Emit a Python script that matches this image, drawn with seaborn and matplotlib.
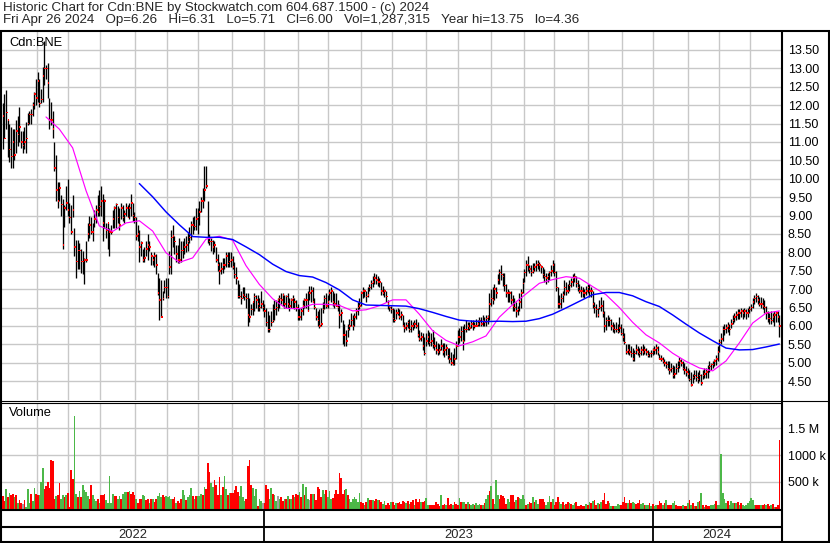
import numpy as np
import matplotlib
matplotlib.use("Agg")
import matplotlib.pyplot as plt
import seaborn as sns
from matplotlib.lines import Line2D

# ---------------- data ----------------
title_line1 = "Historic Chart for Cdn:BNE by Stockwatch.com 604.687.1500 - (c) 2024"
title_fields = ["Fri Apr 26 2024", "Op=6.26", "Hi=6.31", "Lo=5.71", "Cl=6.00",
                "Vol=1,287,315", "Year hi=13.75", "lo=4.36"]
symbol_label = "Cdn:BNE"
volume_label = "Volume"

high = [
 12.05,12.3,12.4,11.6,11.5,11.4,11.35,11.35,11.6,11.7,
 11.95,11.3,11.3,11.4,11.55,11.8,11.85,11.9,12.1,12.35,
 12.7,12.9,12.7,12.45,13.05,13.75,13.1,13.15,12.2,12.1,
 11.85,11.0,10.65,9.9,9.9,9.55,9.45,9.3,9.8,10.0,
 9.35,9.3,9.55,8.65,8.35,8.35,8.25,8.1,8.05,7.85,
 8.3,8.8,9.0,8.95,8.8,9.15,9.3,9.55,9.7,9.8,
 9.6,9.45,8.8,8.8,8.65,8.75,9.15,9.25,9.35,9.25,
 9.2,9.35,9.3,9.15,9.35,9.3,9.35,9.6,9.35,9.1,
 8.95,8.75,8.6,8.3,8.1,8.15,8.3,8.5,8.3,8.0,
 7.9,8.0,
 7.95,7.45,7.3,7.25,6.95,7.25,7.3,7.3,8.05,8.6,
 8.75,8.45,8.2,8.2,8.4,8.3,8.3,8.4,8.45,8.55,
 8.7,8.85,8.95,9.0,9.2,9.2,9.4,9.5,9.75,10.35,
 10.35,9.4,8.5,8.4,8.35,8.3,8.15,7.95,7.75,7.75,
 7.85,7.85,8.0,8.0,8.0,8.0,7.9,7.75,7.6,7.25,
 7.15,6.95,7.05,7.05,6.9,6.9,6.75,6.6,6.65,6.9,
 6.85,6.85,6.75,6.95,6.7,6.6,6.5,6.4,6.3,6.4,
 6.6,6.7,6.7,6.75,6.85,6.9,6.9,6.85,6.85,6.9,
 6.75,6.75,6.85,6.75,6.7,6.6,6.5,6.5,6.7,6.75,
 6.9,6.95,7.1,
 7.1,7.05,6.75,6.5,6.4,6.45,6.5,6.65,6.85,6.9,
 6.85,7.0,7.05,6.95,6.9,6.9,6.7,6.6,6.45,6.15,
 6.05,5.9,6.05,6.2,6.35,6.3,6.35,6.5,6.65,6.75,
 6.95,7.05,7.0,6.95,7.05,7.15,7.25,7.35,7.45,7.4,
 7.35,7.3,7.2,7.1,7.0,6.95,6.7,6.55,6.55,6.5,
 6.45,6.45,6.5,6.45,6.4,6.3,6.1,6.1,6.15,6.2,
 6.15,6.1,6.15,6.2,6.1,5.9,5.85,5.8,5.7,5.8,
 5.9,5.85,5.8,5.9,5.7,5.6,5.55,5.5,5.65,5.55,
 5.55,5.5,5.4,5.4,5.3,5.25,5.4,5.6,5.9,5.95,
 6.0,6.0,6.05,
 6.15,6.1,6.1,6.15,6.15,6.1,6.2,6.15,6.25,6.25,
 6.3,6.25,6.3,6.3,6.9,7.0,7.05,7.15,7.05,7.4,
 7.55,7.65,7.45,7.45,7.15,7.0,6.95,6.95,6.85,6.75,
 6.65,6.55,6.9,7.0,7.3,7.55,7.8,7.9,7.65,7.65,
 7.7,7.7,7.8,7.8,7.75,7.65,7.6,7.55,7.45,7.45,
 7.5,7.65,7.8,7.7,7.5,7.05,6.85,6.9,6.95,7.25,
 7.2,7.15,7.25,7.3,7.4,7.45,7.35,7.25,7.15,7.1,
 7.05,7.0,7.1,7.15,7.15,7.05,6.95,6.65,6.6,6.5,
 6.7,6.8,6.7,6.4,6.25,6.3,6.25,6.2,6.1,6.05,
 6.1,6.05,6.25,
 6.05,5.95,5.8,5.5,5.5,5.5,5.45,5.4,5.35,5.5,
 5.45,5.4,5.45,5.5,5.45,5.4,5.35,5.3,5.35,5.4,
 5.45,5.5,5.45,5.25,5.2,5.15,5.1,5.05,5.05,5.05,
 5.0,4.95,4.9,5.0,5.05,5.15,5.1,5.05,5.0,4.9,
 4.85,4.8,4.75,4.7,4.8,4.8,4.75,4.8,4.7,4.8,
 4.85,4.85,4.95,5.05,5.0,5.05,5.1,5.2,5.45,5.65,
 5.8,6.0,6.05,6.05,6.1,6.05,6.2,6.3,6.35,6.4,
 6.45,6.45,6.5,6.45,6.5,6.45,6.5,6.55,6.6,6.75,
 6.85,6.9,6.85,6.8,6.8,6.75,6.7,6.55,6.4,6.35,
 6.4,6.35,6.4,6.4,6.4,6.31,
]

low = [
 10.8,11.1,11.35,10.6,10.45,10.3,10.3,10.5,10.7,10.9,
 11.0,10.85,10.7,10.8,10.7,11.45,11.5,11.5,11.7,11.9,
 12.0,12.1,11.95,12.05,12.1,12.55,12.7,12.2,11.35,11.45,
 11.1,10.2,9.4,9.2,9.4,9.0,8.1,8.7,9.15,9.0,
 8.8,8.5,8.95,7.9,7.3,7.55,7.55,7.45,7.4,7.15,
 7.75,8.3,8.4,8.5,8.3,8.7,8.8,9.0,9.0,9.0,
 8.3,8.65,8.4,8.1,7.9,8.5,8.65,8.65,8.65,8.8,
 8.6,8.9,8.85,8.8,9.0,8.95,8.9,9.0,8.85,8.8,
 8.35,8.3,7.75,7.9,7.75,7.75,7.9,7.8,8.05,7.65,
 7.65,7.6,
 7.4,6.85,6.15,6.25,6.7,6.9,6.75,6.75,7.4,7.4,
 8.15,7.95,7.75,7.7,7.7,7.75,7.85,7.95,8.0,8.05,
 8.25,8.35,8.5,8.6,8.6,8.5,8.75,9.1,9.2,9.4,
 9.75,8.25,8.2,8.05,7.95,8.0,7.75,7.5,7.15,7.4,
 7.45,7.55,7.6,7.6,7.6,7.6,7.55,7.3,7.15,6.75,
 6.75,6.6,6.75,6.7,6.5,6.0,6.1,6.3,6.3,6.4,
 6.5,6.4,6.4,6.5,6.4,6.25,6.0,5.85,5.85,6.0,
 6.1,6.15,6.3,6.4,6.5,6.6,6.55,6.5,6.5,6.5,
 6.4,6.5,6.5,6.45,6.4,6.15,6.15,6.15,6.3,6.5,
 6.5,6.4,6.7,
 6.65,6.65,6.45,6.15,6.0,5.95,6.0,6.35,6.45,6.5,
 6.5,6.7,6.65,6.55,6.5,6.55,6.4,5.95,6.1,5.5,
 5.45,5.45,5.7,5.9,6.0,5.9,6.0,6.2,6.3,6.45,
 6.55,6.75,6.8,6.65,6.8,6.95,7.0,7.05,7.15,7.15,
 7.1,7.05,6.85,6.85,6.8,6.65,6.45,6.4,6.35,6.1,
 6.1,6.2,6.3,6.2,6.15,6.0,5.85,5.9,5.95,5.85,
 5.85,5.9,5.95,5.95,5.7,5.6,5.6,5.35,5.2,5.45,
 5.5,5.45,5.45,5.4,5.35,5.25,5.2,5.25,5.35,5.2,
 5.15,5.2,5.1,5.0,4.95,4.95,4.95,5.1,5.45,5.55,
 5.6,5.35,5.6,
 5.85,5.9,5.9,5.95,5.9,5.95,6.0,6.0,6.0,6.0,
 6.0,6.0,6.0,6.05,6.15,6.55,6.6,6.7,6.75,7.15,
 7.15,7.25,7.1,6.95,6.8,6.65,6.65,6.6,6.4,6.4,
 6.25,6.3,6.4,6.5,6.9,7.2,7.35,7.5,7.45,7.35,
 7.45,7.5,7.5,7.55,7.5,7.45,7.3,7.2,7.15,7.2,
 7.25,7.35,7.45,7.35,6.95,6.5,6.5,6.5,6.65,6.85,
 6.85,6.9,6.95,7.05,7.1,7.2,7.05,6.95,6.9,6.8,
 6.8,6.75,6.85,6.9,6.8,6.8,6.5,6.35,6.25,6.25,
 6.45,6.4,6.25,5.85,5.9,6.0,6.0,5.9,5.85,5.8,
 5.85,5.8,5.85,
 5.75,5.6,5.5,5.25,5.25,5.2,5.15,5.05,5.05,5.25,
 5.2,5.15,5.2,5.2,5.25,5.2,5.15,5.15,5.15,5.2,
 5.25,5.25,5.2,5.1,5.05,5.0,4.9,4.85,4.8,4.7,
 4.75,4.6,4.6,4.7,4.75,4.85,4.9,4.8,4.7,4.65,
 4.6,4.5,4.36,4.45,4.55,4.5,4.45,4.5,4.4,4.55,
 4.6,4.6,4.6,4.75,4.8,4.85,4.9,4.95,5.05,5.3,
 5.5,5.6,5.75,5.8,5.85,5.75,5.95,6.05,6.1,6.15,
 6.2,6.2,6.25,6.2,6.25,6.2,6.25,6.35,6.4,6.5,
 6.6,6.65,6.6,6.55,6.5,6.45,6.35,6.2,6.1,6.05,
 6.05,6.1,6.0,6.1,6.1,5.71,
]

close = [
 11.7,11.1,11.8,11.6,10.8,10.6,11.0,10.65,11.3,11.2,
 11.4,11.0,10.9,11.0,11.1,11.5,11.75,11.75,12.0,12.3,
 12.2,12.65,12.05,12.15,12.8,13.0,13.0,12.6,11.6,11.6,
 11.35,10.3,9.7,9.4,9.75,9.3,8.2,9.2,9.35,9.15,
 8.95,8.55,9.15,8.15,7.75,8.05,8.05,7.75,7.75,7.8,
 7.8,8.5,8.75,8.55,8.55,8.9,9.15,9.1,9.25,9.4,
 8.8,9.4,8.6,8.8,8.55,8.55,8.9,9.2,9.3,8.95,
 8.75,9.2,8.95,9.05,9.2,8.95,9.2,9.35,9.0,8.95,
 8.45,8.5,8.15,8.25,7.8,7.85,8.1,8.2,8.15,7.9,
 7.8,7.9,
 7.65,6.9,6.7,6.25,6.75,7.05,7.05,6.8,7.6,8.4,
 8.45,8.3,7.95,7.8,7.8,8.05,8.05,8.15,8.2,8.3,
 8.4,8.75,8.75,8.7,8.9,8.95,9.1,9.4,9.4,9.7,
 9.8,8.4,8.3,8.3,8.15,8.2,7.8,7.65,7.5,7.55,
 7.65,7.65,7.9,7.7,7.75,7.8,7.6,7.4,7.3,6.8,
 6.8,6.75,6.85,6.8,6.75,6.3,6.25,6.45,6.65,6.8,
 6.7,6.6,6.5,6.6,6.5,6.4,6.1,5.9,5.9,6.1,
 6.15,6.45,6.5,6.7,6.75,6.7,6.85,6.6,6.8,6.6,
 6.55,6.7,6.75,6.65,6.5,6.25,6.25,6.4,6.55,6.7,
 6.7,6.4,6.9,
 6.95,6.65,6.5,6.25,6.15,6.0,6.05,6.45,6.75,6.55,
 6.65,6.9,6.95,6.65,6.6,6.55,6.5,6.3,6.35,5.75,
 5.75,5.6,5.9,6.0,6.15,6.0,6.25,6.4,6.5,6.55,
 6.9,6.95,6.95,6.8,6.85,7.05,7.15,7.2,7.3,7.25,
 7.2,7.2,6.95,6.9,6.95,6.8,6.6,6.5,6.45,6.2,
 6.15,6.35,6.35,6.25,6.3,6.0,5.95,6.0,6.1,5.9,
 6.0,6.0,6.05,6.0,5.75,5.65,5.7,5.45,5.25,5.6,
 5.7,5.55,5.6,5.5,5.45,5.35,5.3,5.35,5.45,5.3,
 5.35,5.4,5.2,5.1,5.0,4.95,5.1,5.45,5.7,5.7,
 5.85,5.6,5.9,
 5.9,6.0,5.95,6.05,6.0,6.0,6.0,6.05,6.15,6.05,
 6.15,6.1,6.2,6.25,6.6,6.75,6.7,7.0,6.9,7.25,
 7.45,7.4,7.35,7.1,6.9,6.9,6.9,6.7,6.55,6.5,
 6.4,6.45,6.65,6.9,7.15,7.45,7.65,7.65,7.55,7.45,
 7.5,7.6,7.65,7.7,7.65,7.6,7.4,7.35,7.3,7.35,
 7.45,7.5,7.65,7.45,7.05,6.6,6.6,6.75,6.85,7.05,
 6.95,6.95,7.1,7.2,7.3,7.35,7.15,7.05,6.95,6.95,
 6.9,6.9,6.95,7.05,6.95,6.95,6.6,6.5,6.45,6.3,
 6.5,6.55,6.35,6.0,6.15,6.15,6.15,6.0,5.95,5.9,
 5.9,5.85,5.95,
 5.8,5.7,5.55,5.3,5.35,5.3,5.25,5.1,5.25,5.35,
 5.3,5.25,5.35,5.3,5.35,5.3,5.2,5.25,5.25,5.35,
 5.35,5.4,5.3,5.1,5.1,5.05,5.0,4.95,4.85,4.8,
 4.85,4.65,4.7,4.85,4.9,5.05,5.0,4.85,4.8,4.75,
 4.7,4.55,4.4,4.6,4.65,4.6,4.55,4.65,4.45,4.65,
 4.7,4.75,4.8,4.9,4.95,4.95,5.05,5.1,5.3,5.55,
 5.65,5.9,5.9,5.95,6.0,5.9,6.05,6.15,6.25,6.3,
 6.35,6.35,6.4,6.35,6.4,6.35,6.35,6.45,6.5,6.65,
 6.75,6.8,6.7,6.6,6.6,6.55,6.5,6.35,6.2,6.2,
 6.15,6.25,6.3,6.35,6.25,6.0,
]

# daily volume, thousands of shares
volume_k = [
 226,142,368,206,290,252,271,206,252,110,
 155,97,77,161,30,368,110,271,142,387,
 271,258,252,497,755,368,413,497,387,916,
 897,174,239,252,484,174,252,206,252,284,
 30,722,548,1722,271,206,335,206,432,355,
 303,239,174,432,252,174,142,174,110,252,
 252,271,161,110,613,110,271,239,226,187,
 226,187,271,303,303,316,335,271,303,252,
 174,110,174,187,252,226,161,187,110,174,
 174,123,174,226,290,206,252,206,226,206,
 239,187,174,206,110,142,110,174,348,252,
 155,206,252,387,226,174,239,226,239,271,
 252,400,368,851,677,484,400,529,432,252,
 581,252,400,600,368,252,290,290,290,355,
 413,316,239,419,206,142,187,800,916,445,
 381,239,368,40,174,142,110,110,445,368,
 174,387,271,252,142,239,174,206,142,174,
 174,226,174,174,252,206,271,252,303,
 213,452,245,406,181,168,277,277,264,168,
 406,361,213,342,277,342,213,323,181,200,
 277,342,277,664,568,277,342,361,245,181,
 116,181,213,181,116,290,116,97,65,116,
 194,168,168,168,148,181,161,161,116,84,
 142,65,103,65,116,129,65,97,103,129,
 77,148,116,97,142,77,129,168,65,181,
 129,181,129,116,148,194,65,65,65,65,
 65,116,84,52,258,65,84,65,194,65,
 84,65,129,84,65,194,116,116,116,84,
 116,84,65,84,65,97,65,84,65,65,
 103,181,258,323,426,181,84,535,258,181,
 245,232,194,84,181,116,245,245,116,161,
 206,194,181,245,181,65,84,116,103,213,
 129,161,84,181,181,181,116,65,129,232,
 116,181,65,116,213,116,84,116,65,84,
 116,97,
 90,71,103,123,52,52,71,39,52,90,
 71,116,103,135,168,71,103,90,116,155,
 284,90,135,103,39,39,52,52,90,71,
 71,116,219,103,103,155,103,116,103,90,
 103,168,90,103,71,71,71,103,52,90,
 39,71,71,135,103,71,103,155,71,71,
 71,103,148,71,52,52,52,71,39,52,
 103,168,71,103,39,52,116,135,297,71,
 26,71,39,52,71,71,90,135,71,71,
 1019,284,181,103,135,71,135,103,103,103,
 116,71,103,71,52,71,103,135,200,168,
 71,71,71,71,71,71,84,71,90,52,
 71,90,26,26,71,1287,
]

# r = down day, g = up day, x = unchanged
volume_dir = (
 "rrgrgrrgrg" "rrxrgggrgg" "rrgggrrrrr" "rrgrrggrgr" "rrrggrgrgg" "ggrrgggrgr"
 "rrgggggrrg" "grgggrgrrr" "grrrggrrgr" "grrgggrrgg" "ggrrgrrrgg" "rgggrgrggg"
 "rgrrrggrrr" "rgrggrgrrr" "rrggggrrrr" "gggrggxrrr" "ggrggxgrrg" "rgrgrgrrg"
 "rgrggxrgrr" "rrrggrgggr" "rrrrrrrgrg" "ggggggrrgr" "grrgrrgrrg" "grrrgrrgrr"
 "rrrgrgrrgr" "rrgrrggrrr" "rrrrgrrgrr" "rgrrrgrggr" "grggrgggrg" "rggrgrgggr"
 "rrrrggrrrg" "rggggrgrrg" "rggrrrrggg" "rgrrrggrgr" "rg"
 "rggrrrrrrg" "rgrgrrgrgr" "rrrggrgggg" "rrrrgrrggr" "rrggrggrgr" "ggrrrgrgrr"
 "rggrrrrgrr" "grgrgrgrgr" "grrrgggrgg" "ggggrgggrg" "rgrggggggg" "grrrgrrgrr"
 "grgrrr"
)

# moving averages as drawn on the chart (one value every 8 sessions)
ma_step = 8
fast_ma_start = 26
fast_ma = [11.68, 11.35, 10.84, 9.68, 8.72, 8.57, 8.8, 8.86, 8.58, 7.99,
           7.73, 7.85, 8.36, 8.44, 8.33, 7.64, 7.13, 6.74, 6.48, 6.47,
           6.59, 6.59, 6.56, 6.41, 6.44, 6.55, 6.71, 6.71, 6.32, 5.87,
           5.61, 5.46, 5.57, 5.73, 6.24, 6.58, 6.87, 7.16, 7.26, 7.34,
           7.3, 7.07, 6.85, 6.5, 6.1, 5.76, 5.54, 5.26, 5.04, 4.86,
           4.78, 5.05, 5.54, 6.08, 6.35, 6.41]
slow_ma_start = 82
slow_ma = [9.87, 9.51, 9.1, 8.75, 8.43, 8.41, 8.41, 8.35, 8.15, 7.94,
           7.68, 7.48, 7.37, 7.33, 7.18, 6.98, 6.71, 6.57, 6.56, 6.55,
           6.54, 6.47, 6.37, 6.26, 6.16, 6.13, 6.12, 6.13, 6.12, 6.13,
           6.2, 6.32, 6.49, 6.67, 6.85, 6.91, 6.91, 6.82, 6.66, 6.53,
           6.3, 6.05, 5.81, 5.6, 5.4, 5.35, 5.36, 5.43, 5.51]

# session index at which each month starts (Jun 2022 ... Apr 2024)
month_start_bar = [20.4, 39.4, 58.4, 79.4, 98.4, 117.4, 137.4, 157.0, 177.0,
                   195.0, 214.8, 233.8, 253.8, 273.0, 292.8, 313.0, 331.0,
                   351.4, 371.4, 390.0, 411.0, 429.8, 448.4]
year_labels = ["2022", "2023", "2024"]
year_start_bar = [157.0, 390.0]

price_ticks = np.arange(4.5, 13.51, 0.5)
volume_ticks = [500, 1000, 1500]
volume_tick_labels = ["500 k", "1000 k", "1.5 M"]

# ---------------- drawing ----------------
sns.set_style("white")
plt.rcParams["font.family"] = ["Liberation Sans", "DejaVu Sans"]
FS = 9.0
FS_HEAD = 9.6
GRID = "#c8c8c8"
RED = "#ff0000"
GREEN = "#4cb848"

W, H = 830, 543
fig = plt.figure(figsize=(W / 100, H / 100), dpi=100)
fig.patch.set_facecolor("white")


def fx(px):
    return px / W


def fy(py):
    return 1 - py / H


n = len(close)
assert len(high) == n and len(low) == n and len(volume_k) == n and len(volume_dir) == n
bars = np.arange(n)
x_lim = (-1.0, 467.0)

ax_p = fig.add_axes([fx(1), fy(400), fx(781) - fx(1), (400 - 30) / H])
ax_v = fig.add_axes([fx(1), fy(509), fx(781) - fx(1), (509 - 402.5) / H])

for ax in (ax_p, ax_v):
    ax.set_xlim(*x_lim)
    ax.set_xticks(month_start_bar)
    ax.set_xticklabels([])
    ax.set_axisbelow(True)
    ax.grid(True, color=GRID, lw=1.0)
    for s in ax.spines.values():
        s.set_visible(False)
    ax.yaxis.tick_right()
    ax.tick_params(axis="both", length=0, labelsize=FS, colors="black")
    ax.tick_params(axis="y", pad=5.0)

# price panel
ax_p.set_ylim(3.989, 14.043)
ax_p.set_yticks(price_ticks)
ax_p.set_yticklabels([f"{v:.2f}" for v in price_ticks])
ax_p.vlines(bars, low, high, color="black", lw=0.95)
sns.scatterplot(x=bars + 0.45, y=close, ax=ax_p, marker="s", s=1.3,
                color=RED, edgecolor="none", linewidth=0, legend=False, zorder=4)
fast_x = fast_ma_start + ma_step * np.arange(len(fast_ma))
slow_x = slow_ma_start + ma_step * np.arange(len(slow_ma))
sns.lineplot(x=fast_x, y=fast_ma, ax=ax_p, color="#ff00ff", lw=0.85, zorder=5)
sns.lineplot(x=slow_x, y=slow_ma, ax=ax_p, color="#0000ff", lw=1.05, zorder=5)
ax_p.text(0.0106, 0.966, symbol_label, transform=ax_p.transAxes, fontsize=9.3,
          va="center", ha="left", color="black")

# volume panel
ax_v.set_ylim(-9, 1982)
ax_v.set_yticks(volume_ticks)
ax_v.set_yticklabels(volume_tick_labels)
cmap = {"r": RED, "g": GREEN, "x": "#a0a0a0"}
ax_v.bar(bars, volume_k, width=1.0, color=[cmap[c] for c in volume_dir],
         linewidth=0, zorder=3)
ax_v.text(0.0106, 0.90, volume_label, transform=ax_v.transAxes, fontsize=9.3,
          va="center", ha="left", color="black")

# ---------------- frame / header ----------------
def hline(py, x0, x1, lw=1.5):
    fig.add_artist(Line2D([fx(x0), fx(x1)], [fy(py), fy(py)], color="black",
                          lw=lw, transform=fig.transFigure, solid_capstyle="butt"))


def vline(px, y0, y1, lw=1.5):
    fig.add_artist(Line2D([fx(px), fx(px)], [fy(y0), fy(y1)], color="black",
                          lw=lw, transform=fig.transFigure, solid_capstyle="butt"))


fig.text(fx(3), fy(11.5), title_line1, fontsize=FS_HEAD, va="baseline", ha="left")
fig.text(fx(3), fy(22.5), "   ".join(title_fields), fontsize=FS_HEAD,
         va="baseline", ha="left")

hline(30.5, 0, 830)
vline(1.0, 30, 543)
vline(781.5, 30, 543)
vline(829.2, 30, 543)
hline(400.5, 0, 830, lw=0.8)
hline(402.6, 0, 781, lw=0.8)
hline(509.5, 0, 781)
hline(526.6, 0, 781)
hline(542.0, 0, 830)

# year separators and labels
fig.canvas.draw()
inv = fig.transFigure.inverted()
sep_px = [ax_v.transData.transform((b, 0))[0] for b in year_start_bar]
edges = [fx(1) * W] + sep_px + [fx(781) * W]
for sx in sep_px:
    xf = inv.transform((sx, 0))[0]
    fig.add_artist(Line2D([xf, xf], [fy(509.5), fy(542)], color="black", lw=1.3,
                          transform=fig.transFigure))
for lab, a, b in zip(year_labels, edges[:-1], edges[1:]):
    xf = inv.transform(((a + b) / 2, 0))[0]
    fig.text(xf, fy(534.5), lab, fontsize=9.3, ha="center", va="center")

fig.savefig("out.png", dpi=100, facecolor="white")
